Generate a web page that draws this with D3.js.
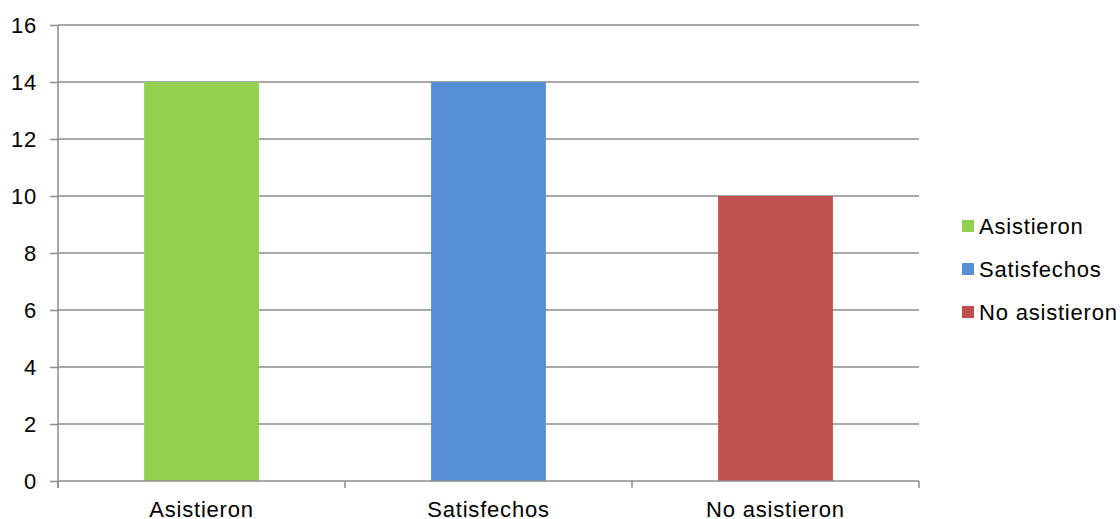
<!DOCTYPE html>
<html><head><meta charset="utf-8">
<script src="https://cdn.jsdelivr.net/npm/d3@7"></script>
<style>body{margin:0;background:#fff;} text{font-family:"Liberation Sans",Arial,sans-serif;}</style>
</head><body><svg id="c" width="1120" height="519"></svg>
<script>
const categories = ["Asistieron", "Satisfechos", "No asistieron"];
const values = [14, 14, 10];
const colors = ["#92d050", "#558ed5", "#c0504d"];
const yTicks = [0, 2, 4, 6, 8, 10, 12, 14, 16];

const svg = d3.select("#c");
const L = 58, R = 919, T = 25, B = 481;
const x = d3.scaleBand().domain(categories).range([L, R]).paddingInner(0.6).paddingOuter(0.3);
const xb = d3.scaleBand().domain(categories).range([L, R]);
const y = d3.scaleLinear().domain([0, 16]).range([B, T]);
const fs = "22px", ls = "0.8px";

// gridlines
svg.append("g").selectAll("line").data(yTicks.filter(d => d > 0)).join("line")
  .attr("x1", L).attr("x2", R).attr("y1", d => y(d)).attr("y2", d => y(d))
  .attr("stroke", "#8c8c8c").attr("stroke-width", 1.5);

// bars
svg.append("g").selectAll("rect").data(values).join("rect")
  .attr("x", (d, i) => x(categories[i])).attr("width", x.bandwidth())
  .attr("y", d => y(d)).attr("height", d => y(0) - y(d))
  .attr("fill", (d, i) => colors[i]);

// y axis
const ya = svg.append("g").attr("transform", `translate(${L},0)`)
  .call(d3.axisLeft(y).tickValues(yTicks).tickSize(8).tickPadding(13));
ya.select(".domain").attr("stroke", "#8c8c8c").attr("stroke-width", 1.5).attr("d", `M0,${T}V${B + 7}`);
ya.selectAll(".tick line").attr("stroke", "#8c8c8c").attr("stroke-width", 1.5);
ya.selectAll(".tick text").attr("font-size", fs).attr("letter-spacing", ls).attr("fill", "#000")
  .attr("font-family", "Liberation Sans, Arial, sans-serif");

// x axis
const bounds = [L].concat(categories.map(c => xb(c) + xb.bandwidth()));
const xg = svg.append("g");
xg.append("line").attr("x1", L).attr("x2", R).attr("y1", B).attr("y2", B).attr("stroke", "#8c8c8c").attr("stroke-width", 1.5);
xg.selectAll(".tk").data(bounds).join("line").attr("class", "tk")
  .attr("x1", d => d).attr("x2", d => d).attr("y1", B).attr("y2", B + 7)
  .attr("stroke", "#8c8c8c").attr("stroke-width", 1.5);
xg.selectAll("text").data(categories).join("text")
  .attr("x", d => xb(d) + xb.bandwidth() / 2).attr("y", 516.5)
  .attr("text-anchor", "middle").attr("font-size", fs).attr("letter-spacing", ls).text(d => d);

// legend
const lg = svg.append("g").attr("transform", "translate(962,0)");
const rows = lg.selectAll("g").data(categories).join("g")
  .attr("transform", (d, i) => `translate(0,${226 + i * 43})`);
rows.append("rect").attr("x", 0).attr("y", -6).attr("width", 12).attr("height", 12)
  .attr("fill", (d, i) => colors[i]);
rows.append("text").attr("x", 17).attr("y", 8).attr("font-size", fs).attr("letter-spacing", ls).text(d => d);
</script></body></html>
